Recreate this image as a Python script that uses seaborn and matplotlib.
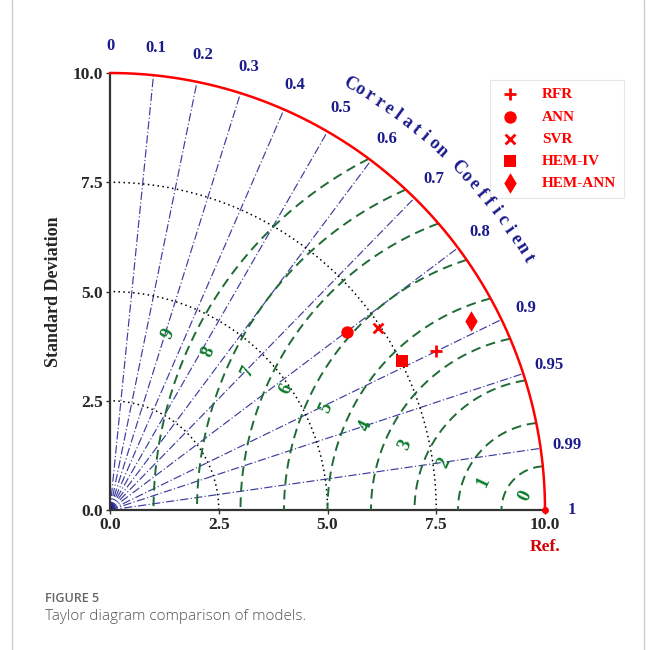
import numpy as np
import pandas as pd
import matplotlib
matplotlib.use("Agg")
import matplotlib.pyplot as plt
import seaborn as sns

# Model statistics (standard deviation and correlation with the reference)
models = ["RFR", "ANN", "SVR", "HEM-IV", "HEM-ANN"]
std_dev = [8.33, 6.79, 7.43, 7.52, 9.36]
corr_coef = [0.899, 0.801, 0.829, 0.892, 0.887]
model_markers = ["+", "o", "x", "s", "d"]

ref_std = 10.0
std_ticks = [0.0, 2.5, 5.0, 7.5, 10.0]
std_rings = [2.5, 5.0, 7.5]
corr_ticks = [0, 0.1, 0.2, 0.3, 0.4, 0.5, 0.6, 0.7, 0.8, 0.9, 0.95, 0.99, 1]
corr_tick_labels = ["0", "0.1", "0.2", "0.3", "0.4", "0.5", "0.6", "0.7",
                    "0.8", "0.9", "0.95", "0.99", "1"]
rmsd_levels = [0, 1, 2, 3, 4, 5, 6, 7, 8, 9]

sns.set_theme(style="white")
plt.rcParams["font.family"] = ["Liberation Serif", "DejaVu Serif"]

SERIF = "Liberation Serif"
NAVY = "#1a1a8c"
GREEN_LINE = "#1f6b35"
GREEN_TEXT = "#0a7a2a"

fig = plt.figure(figsize=(6.58, 6.5), dpi=100)
ax = fig.add_axes([110 / 658, 1 - 510 / 650, 435 / 658, 437 / 650])
ax.set_xlim(0, 10)
ax.set_ylim(0, 10)

# correlation rays
for c in corr_ticks[1:-1]:
    th = np.arccos(c)
    ax.plot([0, ref_std * np.cos(th)], [0, ref_std * np.sin(th)],
            color=NAVY, lw=0.85, ls=(0, (7, 2, 1, 2)), alpha=0.85, zorder=2)

# standard deviation rings
t = np.linspace(0, np.pi / 2, 300)
for r in std_rings:
    ax.plot(r * np.cos(t), r * np.sin(t), color="black", lw=1.1,
            ls=(0, (1, 2.2)), zorder=2)
ax.plot(ref_std * np.cos(t), ref_std * np.sin(t), color="red", lw=1.8, zorder=4,
        clip_on=False)

# centred RMS difference contours around the reference point
for r in rmsd_levels[1:]:
    xi = ref_std - r ** 2 / (2 * ref_std)
    yi = np.sqrt(max(ref_std ** 2 - xi ** 2, 0))
    phi0 = np.arctan2(yi, xi - ref_std)
    phi = np.linspace(phi0, np.pi, 200)
    ax.plot(ref_std + r * np.cos(phi), r * np.sin(phi), color=GREEN_LINE,
            lw=1.4, ls=(0, (5, 3)), zorder=3)

for r in rmsd_levels:
    a = np.deg2rad(155 if r > 0 else 145)
    rr = r + 0.55
    ax.text(ref_std + rr * np.cos(a), rr * np.sin(a), str(r), color=GREEN_TEXT,
            fontsize=13.5, fontweight="bold", family=SERIF, rotation=65,
            ha="center", va="center", zorder=5)

# correlation tick labels around the arc
for c, lab in zip(corr_ticks, corr_tick_labels):
    th = np.arccos(c)
    rr = 10.62
    ax.text(rr * np.cos(th), rr * np.sin(th), lab, color=NAVY, fontsize=12,
            fontweight="bold", family=SERIF, ha="center", va="center",
            clip_on=False)

# curved axis title
title = "Correlation Coefficient"
angs = np.linspace(60.5, 31.0, len(title))
for ch, a in zip(title, angs):
    ar = np.deg2rad(a)
    ax.text(11.2 * np.cos(ar), 11.2 * np.sin(ar), ch, color=NAVY, fontsize=13,
            fontweight="bold", family=SERIF, rotation=a - 90,
            ha="center", va="center", clip_on=False, zorder=10)

# model points
df = pd.DataFrame({"model": models, "std": std_dev, "corr": corr_coef,
                   "marker": model_markers})
df["x"] = df["std"] * df["corr"]
df["y"] = df["std"] * np.sin(np.arccos(df["corr"]))
sizes = {"+": 70, "o": 80, "x": 50, "s": 80, "d": 110}
for _, row in df.iterrows():
    line_art = row["marker"] in ("+", "x")
    sns.scatterplot(x=[row["x"]], y=[row["y"]], ax=ax, marker=row["marker"],
                    color="red", s=sizes[row["marker"]],
                    linewidth=2.0 if line_art else 0,
                    edgecolor="red", label=row["model"], zorder=6,
                    clip_on=False)

# reference point
ax.plot([ref_std], [0], marker="o", color="red", ms=4, clip_on=False, zorder=7)
ax.text(ref_std, -0.85, "Ref.", color="#d40000", fontsize=12.5, fontweight="bold",
        family=SERIF, ha="center", va="center", clip_on=False)

# axes cosmetics
for s in ["top", "right"]:
    ax.spines[s].set_visible(False)
for s in ["left", "bottom"]:
    ax.spines[s].set_color("#333333")
    ax.spines[s].set_linewidth(1.6)
ax.set_xticks(std_ticks)
ax.set_yticks(std_ticks)
ax.set_xticklabels([f"{v:.1f}" for v in std_ticks])
ax.set_yticklabels([f"{v:.1f}" for v in std_ticks])
ax.tick_params(axis="both", direction="out", length=3, width=1, color="#333333",
               labelsize=12.5, pad=2, bottom=True, left=True)
for lab in ax.get_xticklabels() + ax.get_yticklabels():
    lab.set_fontweight("bold")
    lab.set_family(SERIF)
ax.set_xlabel("")
ax.set_ylabel("Standard Deviation", fontsize=13, fontweight="bold",
              family=SERIF, labelpad=8)

leg = ax.legend(loc="upper left", bbox_to_anchor=(490 / 658, 1 - 80 / 650),
                bbox_transform=fig.transFigure,
                prop=dict(family=SERIF, weight="bold", size=11),
                labelcolor="red", frameon=True, fancybox=False,
                edgecolor="#e2e2e2", borderpad=0.5, labelspacing=0.56,
                handletextpad=1.3, handlelength=1.6, borderaxespad=0)
leg.get_frame().set_linewidth(0.8)
leg.set_zorder(8)

# page frame and caption
fig.add_artist(plt.Line2D([12 / 658, 12 / 658], [0, 1], color="#cfcfcf", lw=1,
                          transform=fig.transFigure))
fig.add_artist(plt.Line2D([644 / 658, 644 / 658], [0, 1], color="#cfcfcf", lw=1,
                          transform=fig.transFigure))
fig.text(45 / 658, 1 - 598 / 650, "FIGURE 5", family="Open Sans", fontsize=9,
         color="#666666", va="center", ha="left", fontweight="semibold")
fig.text(45 / 658, 1 - 616 / 650, "Taylor diagram comparison of models.",
         family="Open Sans", fontsize=11, color="#555555", va="center",
         ha="left", fontweight="light")

fig.savefig("out.png", dpi=100, facecolor="white")
